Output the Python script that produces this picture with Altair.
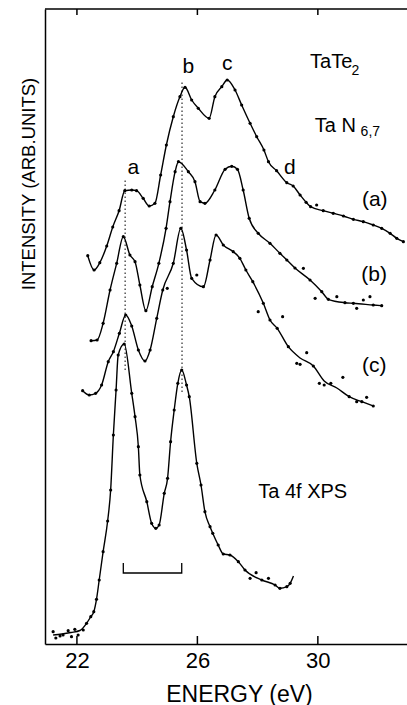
import altair as alt
import pandas as pd

# ---- spectrum (a): Ta N6,7 (top) ----
a_E = [22.36, 22.57, 22.76, 22.99, 23.19, 23.40, 23.59, 23.82, 23.98, 24.20,
       24.40, 24.59, 24.78, 24.97, 25.20, 25.42, 25.59, 25.81, 26.03, 26.39,
       26.58, 26.81, 26.99, 27.25, 27.47, 27.75, 27.97, 28.21, 28.36, 28.63,
       28.97, 29.18, 29.41, 29.61, 29.76, 30.18, 30.51, 30.85, 31.18, 31.51,
       31.84, 32.12, 32.40, 32.62, 32.84]
a_I = [38.83, 37.40, 38.13, 39.80, 41.70, 43.33, 45.33, 45.40, 45.33, 44.57,
       43.80, 44.07, 46.90, 49.90, 52.73, 54.73, 55.67, 54.40, 53.57, 52.57,
       54.73, 55.73, 56.40, 55.40, 53.90, 52.07, 50.73, 49.40, 48.23, 47.33,
       46.13, 45.80, 44.90, 44.17, 43.73, 43.33, 43.07, 42.80, 42.47, 42.23,
       41.90, 41.57, 41.07, 40.57, 40.23]
a_xE = [29.96]
a_xI = [43.90]

# ---- spectrum (b) ----
b_E = [22.47, 22.67, 22.87, 23.10, 23.32, 23.54, 23.76, 23.93, 24.09, 24.29,
       24.50, 24.72, 24.96, 25.09, 25.26, 25.37, 25.70, 25.92, 26.09, 26.25,
       26.58, 26.92, 27.14, 27.33, 27.52, 27.72, 28.02, 28.41, 28.74, 28.97,
       29.24, 29.74, 30.13, 30.35, 30.90, 31.18, 31.84, 32.12]
b_I = [30.33, 30.40, 32.07, 35.40, 38.07, 40.73, 38.90, 38.23, 35.90, 33.33,
       35.73, 38.07, 41.57, 44.23, 47.23, 48.23, 47.23, 46.23, 44.23, 44.07,
       45.40, 47.47, 47.77, 47.47, 45.40, 42.57, 41.07, 40.07, 39.07, 38.40,
       37.60, 36.40, 35.23, 34.47, 34.13, 34.07, 33.90, 33.83]
b_xE = [29.52, 29.91, 30.63, 31.29, 31.51, 31.73]
b_xI = [37.57, 34.57, 34.73, 33.57, 34.40, 34.73]

# ---- spectrum (c) ----
c_E = [22.19, 22.41, 22.62, 22.82, 23.04, 23.21, 23.41, 23.62, 23.82, 24.04,
       24.26, 24.43, 24.65, 24.85, 25.20, 25.45, 25.64, 25.81, 26.20, 26.42,
       26.62, 26.86, 27.19, 27.41, 27.61, 27.84, 28.19, 28.41, 28.65, 29.02,
       29.41, 29.85, 30.21, 30.63, 31.04, 31.46, 31.84]
c_I = [25.33, 24.90, 25.07, 25.90, 28.23, 29.23, 31.07, 32.90, 31.80, 29.40,
       28.30, 29.40, 32.57, 35.40, 38.07, 41.57, 39.40, 36.57, 35.73, 38.40,
       40.90, 39.90, 39.23, 38.57, 37.40, 36.23, 34.07, 32.40, 31.57, 29.73,
       28.60, 27.80, 26.30, 25.60, 24.73, 24.23, 23.80]
c_xE = [25.00, 25.98, 28.02, 28.83, 29.30, 29.41, 29.63, 29.85, 30.05, 30.21,
        30.43, 30.83, 31.04, 31.29, 31.46, 31.62, 31.84]
c_xI = [35.57, 36.90, 33.23, 32.73, 28.07, 27.97, 29.13, 27.80, 26.07, 25.90,
        26.07, 26.67, 24.73, 24.23, 24.23, 24.67, 23.80]

# ---- Ta 4f XPS ----
x_E = [21.21, 21.30, 21.44, 21.54, 21.71, 21.82, 21.93, 22.04, 22.21, 22.32,
       22.46, 22.56, 22.65, 22.74, 22.87, 23.02, 23.12, 23.21, 23.30, 23.37,
       23.57, 23.82, 23.93, 24.04, 24.09, 24.32, 24.48, 24.62, 24.73, 24.90,
       25.01, 25.11, 25.23, 25.35, 25.48, 25.64, 25.73, 25.98, 26.12, 26.25,
       26.42, 26.51, 26.69, 26.86, 27.08, 27.36, 27.58, 28.14, 28.58, 28.74,
       28.97, 29.08, 29.19]
x_I = [1.23, 0.60, 0.80, 0.90, 1.33, 0.73, 1.47, 0.90, 1.40, 2.07,
       2.73, 3.23, 4.47, 6.40, 9.23, 12.30, 15.40, 20.90, 25.40, 28.90,
       30.00, 25.07, 22.73, 19.73, 16.90, 14.23, 12.07, 11.57, 11.90, 15.07,
       16.57, 20.23, 23.40, 26.07, 27.40, 25.90, 24.73, 18.07, 15.90, 13.23,
       11.73, 11.07, 9.90, 9.00, 8.90, 8.23, 7.40, 6.40, 5.90, 5.57,
       5.73, 6.07, 6.80]
x_baseE = [21.21, 21.50, 21.80, 22.10]
x_baseI = [0.90, 1.00, 1.15, 1.35]
x_xE = [27.75, 27.95, 28.36]
x_xI = [6.57, 7.13, 6.57]

# ---- annotations ----
mark_E = [23.60, 25.49]
mark_lo = [27.4, 25.2]
mark_hi = [46.4, 56.2]
bracket_E = [23.54, 23.54, 25.48, 25.48]
bracket_I = [8.1, 7.1, 7.1, 8.1]
tick_vals = [22, 26, 30]

FONT = "Liberation Sans"
X0, X1 = 20.94, 32.96
Y0, Y1 = 0.0, 63.5


def frame(E, I, s):
    return pd.DataFrame({"E": E, "I": I, "s": s})


lines = pd.concat([
    frame(a_E, a_I, "a"),
    frame(b_E, b_I, "b"),
    frame(c_E, c_I, "c"),
    frame(x_baseE + x_E[9:], x_baseI + x_I[9:], "xps"),
])
dots = pd.concat([
    frame(a_E + a_xE, a_I + a_xI, "a"),
    frame(b_E + b_xE, b_I + b_xI, "b"),
    frame(c_E[:30] + c_xE, c_I[:30] + c_xI, "c"),
    frame(x_E[:-1] + x_xE, x_I[:-1] + x_xI, "xps"),
])

xs = alt.Scale(domain=[X0, X1], nice=False, zero=False)
ys = alt.Scale(domain=[Y0, Y1], nice=False, zero=False)

x_axis = alt.Axis(values=tick_vals, ticks=False, grid=False, domainColor="black",
                  domainWidth=1.5, labelFontSize=22, labelColor="black", labelFont=FONT,
                  labelPadding=6, title="ENERGY (eV)", titleFontSize=23,
                  titleFontWeight="normal", titleColor="black", titleFont=FONT,
                  titleX=194, titleY=57, titleAlign="center", titleBaseline="alphabetic")
y_axis = alt.Axis(labels=False, ticks=False, grid=False, domainColor="black",
                  domainWidth=1.5, title="INTENSITY (ARB.UNITS)", titleFontSize=18.5,
                  titleFontWeight="normal", titleColor="black", titleFont=FONT,
                  titleAngle=270, titleX=-17, titleY=174.5, titleAlign="center",
                  titleBaseline="middle")

X = alt.X("E:Q", scale=xs, axis=x_axis)
Y = alt.Y("I:Q", scale=ys, axis=y_axis)

line_layer = alt.Chart(lines).mark_line(color="black", strokeWidth=1.4,
                                        interpolate="monotone").encode(
    x=X, y=Y, detail="s:N")
dot_layer = alt.Chart(dots).mark_circle(color="black", size=10, opacity=1).encode(x=X, y=Y)

marks_df = pd.DataFrame({"E": mark_E, "I": mark_lo, "I2": mark_hi})
dotted = alt.Chart(marks_df).mark_rule(color="black", strokeWidth=1,
                                       strokeDash=[1.5, 2.5]).encode(
    x=X, y=Y, y2="I2:Q")

br_df = pd.DataFrame({"E": bracket_E, "I": bracket_I, "o": [0, 1, 2, 3]})
bracket = alt.Chart(br_df).mark_line(color="black", strokeWidth=1.3).encode(
    x=X, y=Y, order="o:Q")

ticks_df = pd.DataFrame({"E": tick_vals})
bottom_ticks = alt.Chart(ticks_df).mark_rule(color="black", strokeWidth=1.5).encode(
    x=X, y=alt.value(635), y2=alt.value(627))
top_ticks = alt.Chart(ticks_df).mark_rule(color="black", strokeWidth=1.5).encode(
    x=X, y=alt.value(0), y2=alt.value(6))
top_border = alt.Chart(pd.DataFrame({"v": [0]})).mark_rule(
    color="black", strokeWidth=1.5).encode(
    x=alt.value(0), x2=alt.value("width"), y=alt.value(0))

# centred labels
lab_c = pd.DataFrame({
    "t": ["a", "b", "c", "d", "(a)", "(b)", "(c)"],
    "E": [23.87, 25.70, 26.99, 29.07, 31.89, 31.87, 31.87],
    "I": [46.96, 57.07, 57.40, 47.00, 43.80, 36.30, 27.20],
})
txt_c = alt.Chart(lab_c).mark_text(font=FONT, fontSize=21, color="black",
                                   align="center", baseline="alphabetic").encode(
    x=X, y=Y, text="t:N")

# left-aligned labels
lab_l = pd.DataFrame({
    "t": ["TaTe", "Ta N", "Ta 4f XPS"],
    "E": [29.74, 29.90, 28.02],
    "I": [57.57, 51.23, 14.57],
})
txt_l = alt.Chart(lab_l).mark_text(font=FONT, fontSize=20, color="black",
                                   align="left", baseline="alphabetic").encode(
    x=X, y=Y, text="t:N")

lab_s = pd.DataFrame({
    "t": ["2", "6,7"],
    "E": [31.12, 31.42],
    "I": [56.90, 50.85],
})
txt_s = alt.Chart(lab_s).mark_text(font=FONT, fontSize=14, color="black",
                                   align="left", baseline="alphabetic").encode(
    x=X, y=Y, text="t:N")

chart = alt.layer(
    line_layer, dot_layer, dotted, bracket, bottom_ticks, top_ticks, top_border,
    txt_c, txt_l, txt_s
).properties(
    width=362, height=635,
    padding={"left": 45, "top": 9, "right": 0, "bottom": 61},
    autosize="none",
    background="white",
).configure_view(stroke=None)

chart.save("out.html", embed_options={"renderer": "svg", "actions": False})
